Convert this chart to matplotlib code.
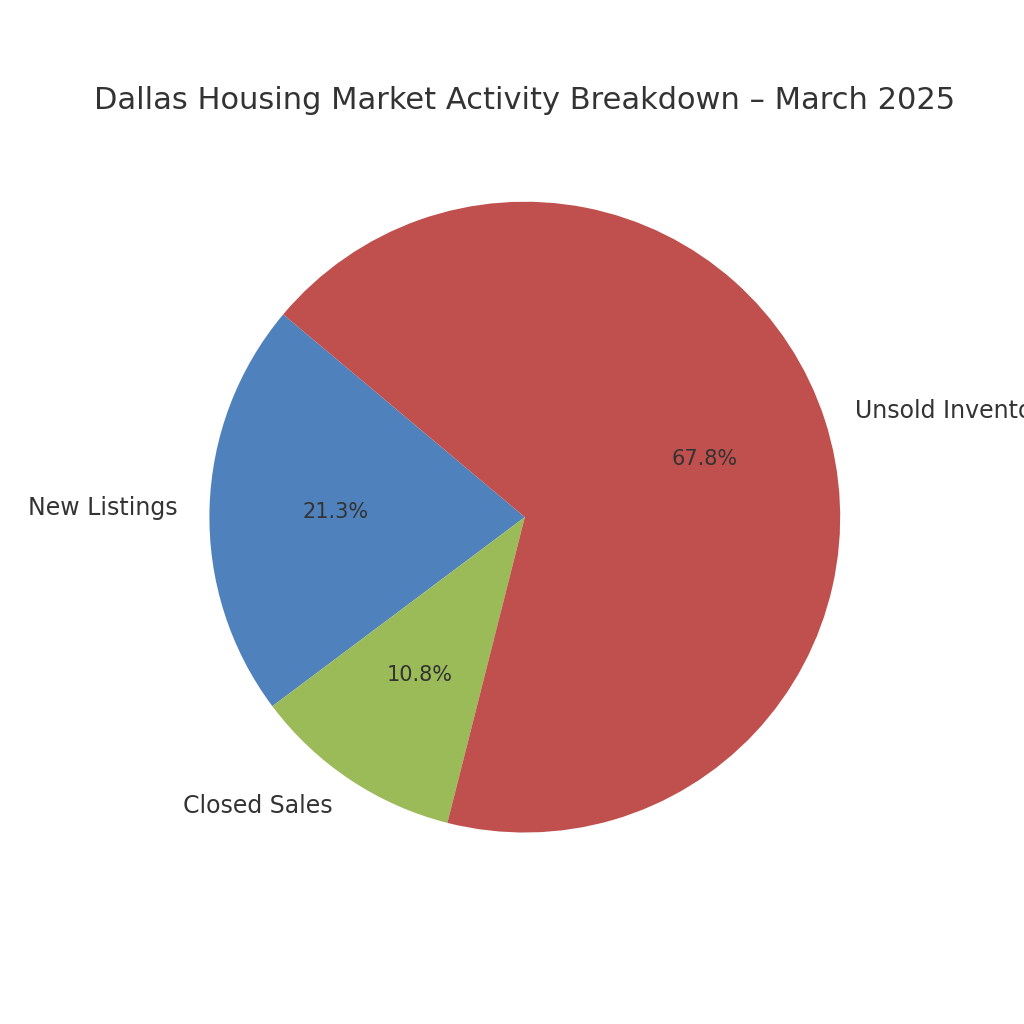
import matplotlib.pyplot as plt

plt.rcParams['font.family'] = ['DejaVu Sans']

labels = ["New Listings", "Closed Sales", "Unsold Inventory"]
shares = [213, 108, 677]
colors = ["#4F81BD", "#9BBB59", "#C0504D"]

fig = plt.figure(figsize=(10.24, 10.24), dpi=100)
ax = fig.add_subplot(111)

wedges, texts, autotexts = ax.pie(shares, labels=labels, colors=colors, autopct="%1.1f%%",
                                  startangle=140, radius=1.0, labeldistance=1.1,
                                  textprops={"color": "#333333", "fontsize": 17})
for t in autotexts:
    t.set_fontsize(15)
ax.set_aspect("equal")
ax.set_title("Dallas Housing Market Activity Breakdown – March 2025",
             fontsize=22, color="#333333", pad=10)

fig.savefig("out.png", dpi=100)
